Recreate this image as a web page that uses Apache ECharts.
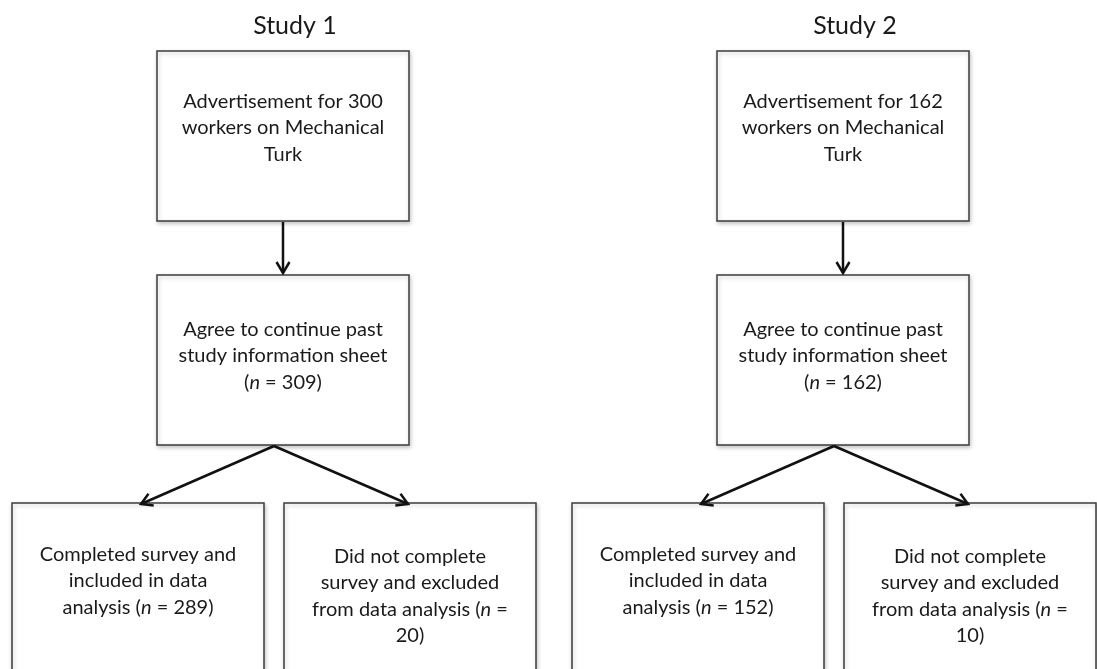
<!DOCTYPE html>
<html>
<head>
<meta charset="utf-8">
<script src="https://cdn.jsdelivr.net/npm/echarts@6/dist/echarts.min.js"></script>
<style>
html,body{margin:0;padding:0;background:#fff;}
#chart{width:1097px;height:669px;}
</style>
</head>
<body>
<div id="chart"></div>
<script>
// ---- data ----
const studyTitles = ['Study 1', 'Study 2'];
const advertisedN = [300, 162];
const agreedN = [309, 162];
const completedN = [289, 152];
const excludedN = [20, 10];

// ---- text builders ----
function boxText(s, b) {
  if (b === 0) return 'Advertisement for ' + advertisedN[s] + '\nworkers on Mechanical\nTurk';
  if (b === 1) return 'Agree to continue past\nstudy information sheet\n({i|n} = ' + agreedN[s] + ')';
  if (b === 2) return 'Completed survey and\nincluded in data\nanalysis ({i|n} = ' + completedN[s] + ')';
  return 'Did not complete\nsurvey and excluded\nfrom data analysis ({i|n} =\n' + excludedN[s] + ')';
}

// ---- layout (pixel space of the canvas, mapped through hidden axes) ----
const colOffset = [0, 560];
const boxLayout = [
  { x0: 157, x1: 409, y0: 51,  y1: 221, ty: 128 },
  { x0: 157, x1: 409, y0: 275, y1: 445, ty: 356 },
  { x0: 12,  x1: 264, y0: 503, y1: 700, ty: 581 },
  { x0: 284, x1: 536, y0: 503, y1: 700, ty: 596 }
];
const titlePos = { x: 295, y: 26 };
const arrowLayout = [
  { x0: 283, y0: 222, x1: 283, y1: 273 },
  { x0: 274, y0: 446, x1: 141, y1: 504 },
  { x0: 274, y0: 446, x1: 408, y1: 504 }
];

const FONT = 'Lato, "Open Sans", sans-serif';
const TEXT_COLOR = '#1a1a1a';
const FS = 20;
const LH = 26.5;

const boxData = [];
studyTitles.forEach((t, s) => { for (let b = 0; b < 4; b++) boxData.push([s, b]); });
const arrowData = [];
studyTitles.forEach((t, s) => { for (let a = 0; a < arrowLayout.length; a++) arrowData.push([s, a]); });
const titleData = studyTitles.map((t, s) => [s]);

const chart = echarts.init(document.getElementById('chart'), null, { renderer: 'canvas' });

chart.setOption({
  backgroundColor: '#ffffff',
  animation: false,
  grid: { left: 0, right: 0, top: 0, bottom: 0 },
  xAxis: { type: 'value', min: 0, max: 1097, show: false },
  yAxis: { type: 'value', min: 0, max: 669, inverse: true, show: false },
  series: [
    {
      type: 'custom',
      coordinateSystem: 'cartesian2d',
      data: boxData,
      encode: { x: -1, y: -1 },
      renderItem: function (params, api) {
        const s = api.value(0), b = api.value(1);
        const L = boxLayout[b], off = colOffset[s];
        const p0 = api.coord([L.x0 + off, L.y0]);
        const p1 = api.coord([L.x1 + off, L.y1]);
        const c = api.coord([(L.x0 + L.x1) / 2 + off, L.ty]);
        return {
          type: 'group',
          children: [
            {
              type: 'rect',
              shape: { x: p0[0], y: p0[1], width: p1[0] - p0[0], height: p1[1] - p0[1] },
              style: {
                fill: '#ffffff', stroke: '#3c3c3c', lineWidth: 1.5,
                shadowBlur: 4, shadowColor: 'rgba(0,0,0,0.22)', shadowOffsetX: 1, shadowOffsetY: 2
              }
            },
            {
              type: 'text',
              x: c[0], y: c[1],
              style: {
                text: boxText(s, b),
                fill: TEXT_COLOR,
                font: FS + 'px ' + FONT,
                align: 'center',
                verticalAlign: 'middle',
                lineHeight: LH,
                rich: {
                  i: { fontStyle: 'italic', fontSize: FS, fontFamily: FONT, fill: TEXT_COLOR, lineHeight: LH }
                }
              }
            }
          ]
        };
      }
    },
    {
      type: 'custom',
      coordinateSystem: 'cartesian2d',
      data: arrowData,
      encode: { x: -1, y: -1 },
      renderItem: function (params, api) {
        const s = api.value(0), a = api.value(1);
        const A = arrowLayout[a], off = colOffset[s];
        const p0 = api.coord([A.x0 + off, A.y0]);
        const p1 = api.coord([A.x1 + off, A.y1]);
        const dx = p1[0] - p0[0], dy = p1[1] - p0[1];
        const len = Math.sqrt(dx * dx + dy * dy);
        const ux = dx / len, uy = dy / len;
        const nx = -uy, ny = ux;
        const hl = 11, hw = 6.5;
        const bx = p1[0] - ux * hl, by = p1[1] - uy * hl;
        return {
          type: 'group',
          children: [
            { type: 'line', shape: { x1: p0[0], y1: p0[1], x2: p1[0], y2: p1[1] },
              style: { stroke: '#111', lineWidth: 2.5 } },
            { type: 'polyline',
              shape: { points: [[bx + nx * hw, by + ny * hw], [p1[0], p1[1]], [bx - nx * hw, by - ny * hw]] },
              style: { stroke: '#111', lineWidth: 2.5, fill: null, lineJoin: 'miter' } }
          ]
        };
      }
    },
    {
      type: 'custom',
      coordinateSystem: 'cartesian2d',
      data: titleData,
      encode: { x: -1, y: -1 },
      renderItem: function (params, api) {
        const s = api.value(0);
        const c = api.coord([titlePos.x + colOffset[s], titlePos.y]);
        return {
          type: 'text', x: c[0], y: c[1],
          style: { text: studyTitles[s], fill: TEXT_COLOR, font: '25px ' + FONT, align: 'center', verticalAlign: 'middle' }
        };
      }
    }
  ]
});
</script>
</body>
</html>
